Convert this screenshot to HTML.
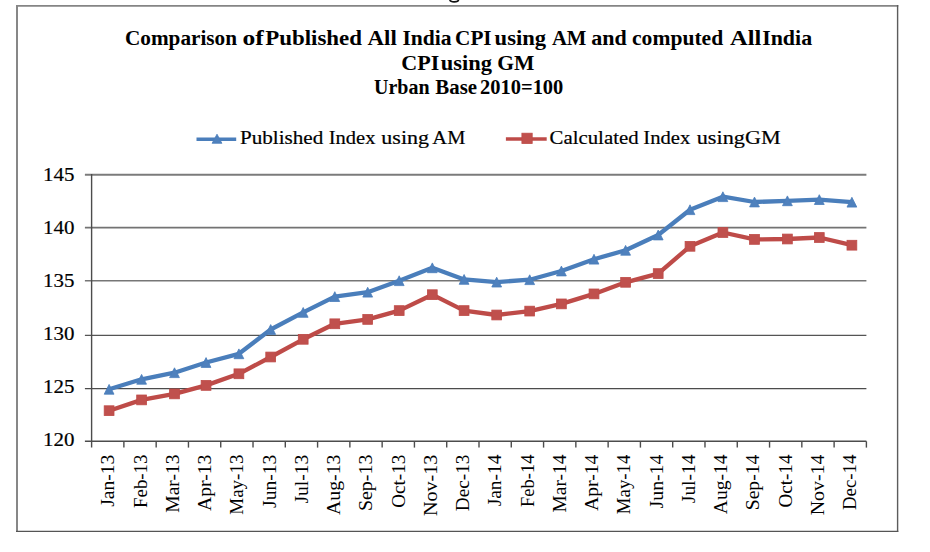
<!DOCTYPE html>
<html><head><meta charset="utf-8"><style>
html,body{margin:0;padding:0;background:#fff;overflow:hidden;width:930px;height:552px;}
svg{display:block;}
text{font-family:"Liberation Serif",serif;fill:#000;}
.t{font-weight:bold;font-size:20.5px;}
.lg{font-size:19px;stroke:#000;stroke-width:0.2px;}
.yl{font-size:19.5px;stroke:#000;stroke-width:0.2px;}
.xl{font-size:18px;}
.gl{stroke:#7a7a7a;stroke-width:1.6;}
.ax{stroke:#4c4c4c;stroke-width:1.4;}
.sb{fill:none;stroke:#4a7ebb;stroke-width:4.3;stroke-linejoin:round;}
.sr{fill:none;stroke:#be4b48;stroke-width:4.3;stroke-linejoin:round;}
.mb{fill:#4f81bd;stroke:#4a7ebb;stroke-width:0.8;}
.mr{fill:#c0504d;stroke:#be4b48;stroke-width:0.8;}
</style></head><body>
<svg width="930" height="552" viewBox="0 0 930 552">
<rect x="0" y="0" width="930" height="552" fill="#fff"/>
<path d="M449.8,-0.5 C449.6,2.7 458.6,2.7 458.6,-0.5" fill="none" stroke="#111" stroke-width="1.6"/>
<line x1="16" y1="5.9" x2="898.3" y2="5.9" stroke="#858585" stroke-width="1.8"/>
<line x1="17" y1="5" x2="17" y2="532" stroke="#878787" stroke-width="2"/>
<line x1="897.6" y1="5" x2="897.6" y2="532" stroke="#5c5c5c" stroke-width="1.4"/>
<line x1="16" y1="531.4" x2="898.3" y2="531.4" stroke="#555555" stroke-width="1.3"/>
<text x="124.96" y="45" class="t" textLength="112.05" lengthAdjust="spacingAndGlyphs">Comparison</text>
<text x="242.50" y="45" class="t" textLength="21.29" lengthAdjust="spacingAndGlyphs">of</text>
<text x="265.16" y="45" class="t" textLength="96.85" lengthAdjust="spacingAndGlyphs">Published</text>
<text x="367.58" y="45" class="t" textLength="29.25" lengthAdjust="spacingAndGlyphs">All</text>
<text x="402.46" y="45" class="t" textLength="49.18" lengthAdjust="spacingAndGlyphs">India</text>
<text x="455.06" y="45" class="t" textLength="36.57" lengthAdjust="spacingAndGlyphs">CPI</text>
<text x="494.57" y="45" class="t" textLength="51.57" lengthAdjust="spacingAndGlyphs">using</text>
<text x="551.90" y="45" class="t" textLength="34.56" lengthAdjust="spacingAndGlyphs">AM</text>
<text x="591.36" y="45" class="t" textLength="35.51" lengthAdjust="spacingAndGlyphs">and</text>
<text x="632.06" y="45" class="t" textLength="91.10" lengthAdjust="spacingAndGlyphs">computed</text>
<text x="729.96" y="45" class="t" textLength="31.29" lengthAdjust="spacingAndGlyphs">All</text>
<text x="762.15" y="45" class="t" textLength="49.99" lengthAdjust="spacingAndGlyphs">India</text>
<text x="401.22" y="69.8" class="t" textLength="38.04" lengthAdjust="spacingAndGlyphs">CPI</text>
<text x="440.67" y="69.8" class="t" textLength="51.27" lengthAdjust="spacingAndGlyphs">using</text>
<text x="497.15" y="69.8" class="t" textLength="37.18" lengthAdjust="spacingAndGlyphs">GM</text>
<text x="374.01" y="93.5" class="t" textLength="55.54" lengthAdjust="spacingAndGlyphs">Urban</text>
<text x="435.39" y="93.5" class="t" textLength="41.71" lengthAdjust="spacingAndGlyphs">Base</text>
<text x="480.10" y="93.5" class="t" textLength="83.23" lengthAdjust="spacingAndGlyphs">2010=100</text>
<line x1="196.5" y1="139.2" x2="236.2" y2="139.2" class="sb" style="stroke-width:3.6"/>
<path d="M217,134.2 L221.9,143.3 L212.1,143.3 Z" class="mb"/>
<text x="239.94" y="143.9" class="lg" textLength="83.32" lengthAdjust="spacingAndGlyphs">Published</text>
<text x="328.75" y="143.9" class="lg" textLength="46.63" lengthAdjust="spacingAndGlyphs">Index</text>
<text x="381.37" y="143.9" class="lg" textLength="47.65" lengthAdjust="spacingAndGlyphs">using</text>
<text x="432.38" y="143.9" class="lg" textLength="32.97" lengthAdjust="spacingAndGlyphs">AM</text>
<line x1="505.9" y1="139" x2="546.7" y2="139" class="sr" style="stroke-width:3.6"/>
<rect x="521.9" y="133.2" width="10.3" height="10.3" class="mr"/>
<text x="549.62" y="143.9" class="lg" textLength="88.94" lengthAdjust="spacingAndGlyphs">Calculated</text>
<text x="643.34" y="143.9" class="lg" textLength="46.93" lengthAdjust="spacingAndGlyphs">Index</text>
<text x="696.77" y="143.9" class="lg" textLength="48.15" lengthAdjust="spacingAndGlyphs">using</text>
<text x="745.07" y="143.9" class="lg" textLength="35.74" lengthAdjust="spacingAndGlyphs">GM</text>
<line x1="84.9" y1="174.8" x2="866.4" y2="174.8" stroke="#7b7b7b" stroke-width="1.9"/>
<line x1="84.9" y1="227.7" x2="866.4" y2="227.7" stroke="#737373" stroke-width="1.8"/>
<line x1="84.9" y1="280.8" x2="866.4" y2="280.8" stroke="#767676" stroke-width="1.6"/>
<line x1="84.9" y1="335.3" x2="866.4" y2="335.3" stroke="#555555" stroke-width="1.2"/>
<line x1="84.9" y1="388.6" x2="866.4" y2="388.6" stroke="#4c4c4c" stroke-width="1.1"/>
<line x1="84.9" y1="441.3" x2="866.4" y2="441.3" class="ax"/>
<line x1="91.6" y1="174.1" x2="91.6" y2="447.6" class="ax"/>
<line x1="123.88" y1="441.3" x2="123.88" y2="447.6" class="ax"/>
<line x1="156.17" y1="441.3" x2="156.17" y2="447.6" class="ax"/>
<line x1="188.45" y1="441.3" x2="188.45" y2="447.6" class="ax"/>
<line x1="220.73" y1="441.3" x2="220.73" y2="447.6" class="ax"/>
<line x1="253.02" y1="441.3" x2="253.02" y2="447.6" class="ax"/>
<line x1="285.30" y1="441.3" x2="285.30" y2="447.6" class="ax"/>
<line x1="317.58" y1="441.3" x2="317.58" y2="447.6" class="ax"/>
<line x1="349.87" y1="441.3" x2="349.87" y2="447.6" class="ax"/>
<line x1="382.15" y1="441.3" x2="382.15" y2="447.6" class="ax"/>
<line x1="414.43" y1="441.3" x2="414.43" y2="447.6" class="ax"/>
<line x1="446.72" y1="441.3" x2="446.72" y2="447.6" class="ax"/>
<line x1="479.00" y1="441.3" x2="479.00" y2="447.6" class="ax"/>
<line x1="511.28" y1="441.3" x2="511.28" y2="447.6" class="ax"/>
<line x1="543.57" y1="441.3" x2="543.57" y2="447.6" class="ax"/>
<line x1="575.85" y1="441.3" x2="575.85" y2="447.6" class="ax"/>
<line x1="608.13" y1="441.3" x2="608.13" y2="447.6" class="ax"/>
<line x1="640.42" y1="441.3" x2="640.42" y2="447.6" class="ax"/>
<line x1="672.70" y1="441.3" x2="672.70" y2="447.6" class="ax"/>
<line x1="704.98" y1="441.3" x2="704.98" y2="447.6" class="ax"/>
<line x1="737.27" y1="441.3" x2="737.27" y2="447.6" class="ax"/>
<line x1="769.55" y1="441.3" x2="769.55" y2="447.6" class="ax"/>
<line x1="801.83" y1="441.3" x2="801.83" y2="447.6" class="ax"/>
<line x1="834.12" y1="441.3" x2="834.12" y2="447.6" class="ax"/>
<line x1="866.40" y1="441.3" x2="866.40" y2="447.6" class="ax"/>
<text x="43.07" y="181.13" class="yl" textLength="31.43" lengthAdjust="spacingAndGlyphs">145</text>
<text x="43.07" y="234.03" class="yl" textLength="31.43" lengthAdjust="spacingAndGlyphs">140</text>
<text x="43.07" y="286.93" class="yl" textLength="31.43" lengthAdjust="spacingAndGlyphs">135</text>
<text x="43.07" y="340.03" class="yl" textLength="31.43" lengthAdjust="spacingAndGlyphs">130</text>
<text x="43.07" y="392.83" class="yl" textLength="31.43" lengthAdjust="spacingAndGlyphs">125</text>
<text x="43.07" y="445.73" class="yl" textLength="31.43" lengthAdjust="spacingAndGlyphs">120</text>
<text transform="translate(114.40,454.6) rotate(-90)" class="xl" text-anchor="end" textLength="52.23" lengthAdjust="spacingAndGlyphs">Jan-13</text>
<text transform="translate(146.65,454.6) rotate(-90)" class="xl" text-anchor="end" textLength="53.31" lengthAdjust="spacingAndGlyphs">Feb-13</text>
<text transform="translate(178.90,454.6) rotate(-90)" class="xl" text-anchor="end" textLength="58.12" lengthAdjust="spacingAndGlyphs">Mar-13</text>
<text transform="translate(211.15,454.6) rotate(-90)" class="xl" text-anchor="end" textLength="56.47" lengthAdjust="spacingAndGlyphs">Apr-13</text>
<text transform="translate(243.40,454.6) rotate(-90)" class="xl" text-anchor="end" textLength="60.08" lengthAdjust="spacingAndGlyphs">May-13</text>
<text transform="translate(275.65,454.6) rotate(-90)" class="xl" text-anchor="end" textLength="53.36" lengthAdjust="spacingAndGlyphs">Jun-13</text>
<text transform="translate(307.90,454.6) rotate(-90)" class="xl" text-anchor="end" textLength="48.95" lengthAdjust="spacingAndGlyphs">Jul-13</text>
<text transform="translate(340.15,454.6) rotate(-90)" class="xl" text-anchor="end" textLength="60.42" lengthAdjust="spacingAndGlyphs">Aug-13</text>
<text transform="translate(372.40,454.6) rotate(-90)" class="xl" text-anchor="end" textLength="56.51" lengthAdjust="spacingAndGlyphs">Sep-13</text>
<text transform="translate(404.65,454.6) rotate(-90)" class="xl" text-anchor="end" textLength="53.28" lengthAdjust="spacingAndGlyphs">Oct-13</text>
<text transform="translate(436.90,454.6) rotate(-90)" class="xl" text-anchor="end" textLength="61.42" lengthAdjust="spacingAndGlyphs">Nov-13</text>
<text transform="translate(469.15,454.6) rotate(-90)" class="xl" text-anchor="end" textLength="56.55" lengthAdjust="spacingAndGlyphs">Dec-13</text>
<text transform="translate(501.40,454.6) rotate(-90)" class="xl" text-anchor="end" textLength="51.73" lengthAdjust="spacingAndGlyphs">Jan-14</text>
<text transform="translate(533.65,454.6) rotate(-90)" class="xl" text-anchor="end" textLength="52.31" lengthAdjust="spacingAndGlyphs">Feb-14</text>
<text transform="translate(565.90,454.6) rotate(-90)" class="xl" text-anchor="end" textLength="57.82" lengthAdjust="spacingAndGlyphs">Mar-14</text>
<text transform="translate(598.15,454.6) rotate(-90)" class="xl" text-anchor="end" textLength="56.47" lengthAdjust="spacingAndGlyphs">Apr-14</text>
<text transform="translate(630.40,454.6) rotate(-90)" class="xl" text-anchor="end" textLength="59.58" lengthAdjust="spacingAndGlyphs">May-14</text>
<text transform="translate(662.65,454.6) rotate(-90)" class="xl" text-anchor="end" textLength="53.86" lengthAdjust="spacingAndGlyphs">Jun-14</text>
<text transform="translate(694.90,454.6) rotate(-90)" class="xl" text-anchor="end" textLength="48.55" lengthAdjust="spacingAndGlyphs">Jul-14</text>
<text transform="translate(727.15,454.6) rotate(-90)" class="xl" text-anchor="end" textLength="59.62" lengthAdjust="spacingAndGlyphs">Aug-14</text>
<text transform="translate(759.40,454.6) rotate(-90)" class="xl" text-anchor="end" textLength="55.71" lengthAdjust="spacingAndGlyphs">Sep-14</text>
<text transform="translate(791.65,454.6) rotate(-90)" class="xl" text-anchor="end" textLength="52.88" lengthAdjust="spacingAndGlyphs">Oct-14</text>
<text transform="translate(823.90,454.6) rotate(-90)" class="xl" text-anchor="end" textLength="60.62" lengthAdjust="spacingAndGlyphs">Nov-14</text>
<text transform="translate(856.15,454.6) rotate(-90)" class="xl" text-anchor="end" textLength="55.45" lengthAdjust="spacingAndGlyphs">Dec-14</text>
<polyline points="109.10,389.30 141.60,379.30 174.50,372.70 206.05,362.50 238.90,353.80 270.70,329.50 303.20,312.40 334.80,296.60 367.70,292.20 399.20,280.70 432.30,267.80 464.10,279.40 496.70,282.10 529.70,279.70 561.40,271.00 594.00,259.20 625.60,250.30 658.20,235.00 690.00,209.70 722.90,196.70 754.50,202.00 787.40,200.80 819.30,199.60 851.90,202.20" class="sb"/>
<polyline points="109.10,410.70 141.60,399.90 174.50,393.90 206.05,385.40 238.90,373.80 270.70,357.00 303.20,339.30 334.80,323.80 367.70,319.40 399.20,310.60 432.30,294.70 464.10,310.60 496.70,315.00 529.70,311.10 561.40,303.90 594.00,293.90 625.60,282.30 658.20,273.60 690.00,246.30 722.90,232.50 754.50,239.40 787.40,239.00 819.30,237.50 851.90,245.20" class="sr"/>
<path d="M109.10,384.40L114.00,394.20L104.20,394.20Z" class="mb"/>
<path d="M141.60,374.40L146.50,384.20L136.70,384.20Z" class="mb"/>
<path d="M174.50,367.80L179.40,377.60L169.60,377.60Z" class="mb"/>
<path d="M206.05,357.60L210.95,367.40L201.15,367.40Z" class="mb"/>
<path d="M238.90,348.90L243.80,358.70L234.00,358.70Z" class="mb"/>
<path d="M270.70,324.60L275.60,334.40L265.80,334.40Z" class="mb"/>
<path d="M303.20,307.50L308.10,317.30L298.30,317.30Z" class="mb"/>
<path d="M334.80,291.70L339.70,301.50L329.90,301.50Z" class="mb"/>
<path d="M367.70,287.30L372.60,297.10L362.80,297.10Z" class="mb"/>
<path d="M399.20,275.80L404.10,285.60L394.30,285.60Z" class="mb"/>
<path d="M432.30,262.90L437.20,272.70L427.40,272.70Z" class="mb"/>
<path d="M464.10,274.50L469.00,284.30L459.20,284.30Z" class="mb"/>
<path d="M496.70,277.20L501.60,287.00L491.80,287.00Z" class="mb"/>
<path d="M529.70,274.80L534.60,284.60L524.80,284.60Z" class="mb"/>
<path d="M561.40,266.10L566.30,275.90L556.50,275.90Z" class="mb"/>
<path d="M594.00,254.30L598.90,264.10L589.10,264.10Z" class="mb"/>
<path d="M625.60,245.40L630.50,255.20L620.70,255.20Z" class="mb"/>
<path d="M658.20,230.10L663.10,239.90L653.30,239.90Z" class="mb"/>
<path d="M690.00,204.80L694.90,214.60L685.10,214.60Z" class="mb"/>
<path d="M722.90,191.80L727.80,201.60L718.00,201.60Z" class="mb"/>
<path d="M754.50,197.10L759.40,206.90L749.60,206.90Z" class="mb"/>
<path d="M787.40,195.90L792.30,205.70L782.50,205.70Z" class="mb"/>
<path d="M819.30,194.70L824.20,204.50L814.40,204.50Z" class="mb"/>
<path d="M851.90,197.30L856.80,207.10L847.00,207.10Z" class="mb"/>
<rect x="104.20" y="405.80" width="9.8" height="9.8" class="mr"/>
<rect x="136.70" y="395.00" width="9.8" height="9.8" class="mr"/>
<rect x="169.60" y="389.00" width="9.8" height="9.8" class="mr"/>
<rect x="201.15" y="380.50" width="9.8" height="9.8" class="mr"/>
<rect x="234.00" y="368.90" width="9.8" height="9.8" class="mr"/>
<rect x="265.80" y="352.10" width="9.8" height="9.8" class="mr"/>
<rect x="298.30" y="334.40" width="9.8" height="9.8" class="mr"/>
<rect x="329.90" y="318.90" width="9.8" height="9.8" class="mr"/>
<rect x="362.80" y="314.50" width="9.8" height="9.8" class="mr"/>
<rect x="394.30" y="305.70" width="9.8" height="9.8" class="mr"/>
<rect x="427.40" y="289.80" width="9.8" height="9.8" class="mr"/>
<rect x="459.20" y="305.70" width="9.8" height="9.8" class="mr"/>
<rect x="491.80" y="310.10" width="9.8" height="9.8" class="mr"/>
<rect x="524.80" y="306.20" width="9.8" height="9.8" class="mr"/>
<rect x="556.50" y="299.00" width="9.8" height="9.8" class="mr"/>
<rect x="589.10" y="289.00" width="9.8" height="9.8" class="mr"/>
<rect x="620.70" y="277.40" width="9.8" height="9.8" class="mr"/>
<rect x="653.30" y="268.70" width="9.8" height="9.8" class="mr"/>
<rect x="685.10" y="241.40" width="9.8" height="9.8" class="mr"/>
<rect x="718.00" y="227.60" width="9.8" height="9.8" class="mr"/>
<rect x="749.60" y="234.50" width="9.8" height="9.8" class="mr"/>
<rect x="782.50" y="234.10" width="9.8" height="9.8" class="mr"/>
<rect x="814.40" y="232.60" width="9.8" height="9.8" class="mr"/>
<rect x="847.00" y="240.30" width="9.8" height="9.8" class="mr"/>
</svg>
</body></html>
